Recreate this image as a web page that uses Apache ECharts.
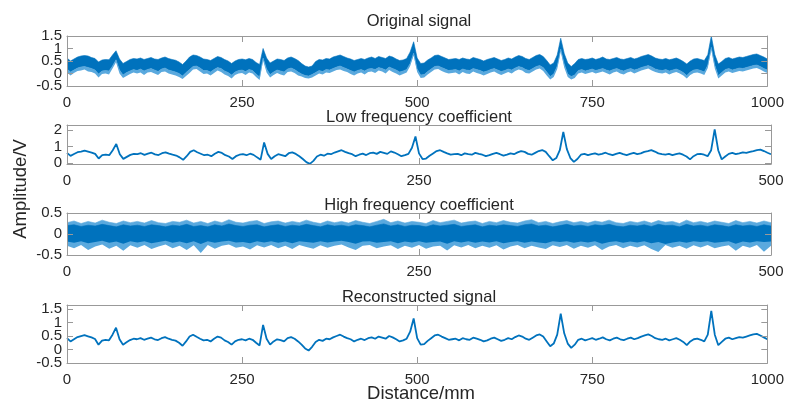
<!DOCTYPE html>
<html>
<head>
<meta charset="utf-8">
<script src="https://cdn.jsdelivr.net/npm/echarts@6/dist/echarts.min.js"></script>
<style>
    html, body { margin: 0; padding: 0; background: #fff; }
    #chart { width: 787px; height: 403px; }
</style>
</head>
<body>
<div id="chart"></div>
<script>
// sample spacing of the arrays below (mm)
const stepLong = 5
const stepShort = 2.5
const stepHigh = 5

const xTicksLong = [0, 250, 500, 750, 1000]
const xTicksShort = [0, 250, 500]
const yTicksOriginal = [-0.5, 0, 0.5, 1, 1.5]
const yTicksLow = [0, 1, 2]
const yTicksHigh = [-0.5, 0, 0.5]
const yTicksRecon = [-0.5, 0, 0.5, 1, 1.5]

const titles = ['Original signal', 'Low frequency coefficient', 'High frequency coefficient', 'Reconstructed signal']

// original signal, 0..1000 mm: upper / lower edge of the dense trace, and the faint lower fringe
const originalUpper = [
    0.62,0.50,0.58,0.66,0.70,0.72,0.70,0.64,0.60,0.46,
    0.54,0.56,0.55,0.74,0.91,0.58,0.40,0.48,0.56,0.60,
    0.58,0.62,0.56,0.60,0.64,0.58,0.56,0.62,0.66,0.60,
    0.56,0.53,0.46,0.36,0.50,0.66,0.74,0.72,0.66,0.58,
    0.56,0.52,0.60,0.68,0.64,0.56,0.50,0.40,0.50,0.56,
    0.58,0.55,0.60,0.56,0.44,0.36,1.00,0.62,0.42,0.50,
    0.58,0.56,0.52,0.62,0.66,0.60,0.52,0.40,0.30,0.26,
    0.30,0.48,0.56,0.54,0.60,0.58,0.66,0.70,0.74,0.68,
    0.62,0.58,0.52,0.56,0.60,0.56,0.62,0.66,0.60,0.68,
    0.64,0.60,0.70,0.66,0.58,0.52,0.54,0.60,0.86,1.27,
    0.62,0.40,0.42,0.54,0.62,0.72,0.74,0.68,0.62,0.56,
    0.58,0.60,0.56,0.62,0.58,0.56,0.64,0.60,0.56,0.50,
    0.56,0.60,0.64,0.58,0.52,0.56,0.62,0.58,0.66,0.72,
    0.68,0.60,0.56,0.64,0.72,0.76,0.68,0.52,0.34,0.42,
    0.74,1.41,0.80,0.42,0.28,0.40,0.56,0.60,0.56,0.58,
    0.62,0.56,0.60,0.66,0.58,0.56,0.60,0.64,0.58,0.56,
    0.60,0.64,0.58,0.62,0.68,0.72,0.76,0.70,0.62,0.58,
    0.56,0.60,0.55,0.58,0.62,0.56,0.48,0.38,0.50,0.58,
    0.60,0.56,0.52,0.75,1.50,0.76,0.38,0.48,0.60,0.64,
    0.58,0.62,0.66,0.64,0.68,0.72,0.76,0.78,0.72,0.66,
    0.58
]
const originalLower = [
    0.18,0.06,0.14,0.22,0.26,0.28,0.24,0.20,0.14,-0.02,
    0.10,0.12,0.10,0.30,0.55,0.14,-0.06,0.04,0.10,0.16,
    0.12,0.18,0.10,0.16,0.20,0.14,0.08,0.18,0.22,0.14,
    0.10,0.06,0.00,-0.10,0.04,0.16,0.28,0.30,0.22,0.12,
    0.12,0.06,0.16,0.24,0.20,0.10,0.04,-0.06,0.06,0.12,
    0.14,0.08,0.16,0.12,-0.02,-0.14,0.62,0.18,-0.04,0.06,
    0.14,0.10,0.06,0.18,0.22,0.16,0.06,-0.02,-0.08,-0.10,
    -0.04,0.04,0.12,0.08,0.16,0.14,0.20,0.26,0.30,0.24,
    0.18,0.12,0.06,0.12,0.16,0.10,0.18,0.20,0.16,0.24,
    0.20,0.14,0.26,0.20,0.14,0.06,0.10,0.16,0.40,0.82,
    0.18,-0.06,-0.04,0.08,0.18,0.28,0.30,0.24,0.18,0.12,
    0.14,0.16,0.10,0.18,0.14,0.12,0.20,0.16,0.12,0.06,
    0.10,0.16,0.20,0.14,0.08,0.12,0.18,0.14,0.22,0.28,
    0.24,0.16,0.12,0.20,0.28,0.32,0.24,0.06,-0.12,-0.02,
    0.30,0.98,0.38,-0.02,-0.12,-0.06,0.12,0.16,0.10,0.14,
    0.18,0.12,0.16,0.20,0.14,0.10,0.16,0.20,0.14,0.10,
    0.16,0.20,0.14,0.18,0.24,0.28,0.32,0.26,0.18,0.14,
    0.12,0.16,0.10,0.14,0.18,0.12,0.04,-0.08,0.06,0.14,
    0.16,0.12,0.06,0.34,1.05,0.34,-0.08,0.04,0.16,0.20,
    0.14,0.18,0.22,0.20,0.24,0.28,0.32,0.34,0.28,0.20,
    0.14
]
const originalFringe = [
    0.04,-0.08,0.02,0.10,0.12,0.16,0.08,0.06,0.00,-0.16,
    -0.02,0.00,-0.04,0.20,0.45,0.00,-0.18,-0.10,-0.02,0.04,
    0.00,0.04,-0.06,0.04,0.06,0.00,-0.06,0.06,0.08,0.00,
    -0.04,-0.08,-0.14,-0.22,-0.10,0.02,0.16,0.18,0.08,-0.02,
    0.00,-0.08,0.02,0.12,0.06,-0.04,-0.10,-0.20,-0.06,0.00,
    0.02,-0.06,0.04,0.00,-0.14,-0.26,0.52,0.04,-0.16,-0.06,
    0.02,-0.04,-0.08,0.06,0.08,0.02,-0.08,-0.12,-0.18,-0.20,
    -0.16,-0.08,0.00,-0.04,0.04,0.02,0.08,0.14,0.16,0.10,
    0.06,-0.02,-0.08,0.00,0.04,-0.04,0.06,0.08,0.02,0.12,
    0.08,0.00,0.14,0.06,0.00,-0.08,-0.02,0.04,0.30,0.72,
    0.06,-0.18,-0.16,-0.04,0.06,0.16,0.18,0.10,0.04,0.00,
    0.02,0.04,-0.04,0.06,0.00,-0.02,0.08,0.02,-0.02,-0.08,
    -0.02,0.04,0.08,0.00,-0.06,0.00,0.06,0.00,0.10,0.16,
    0.12,0.02,0.00,0.08,0.16,0.20,0.10,-0.08,-0.24,-0.14,
    0.18,0.88,0.24,-0.14,-0.24,-0.18,0.00,0.04,-0.02,0.02,
    0.06,0.00,0.04,0.08,0.02,-0.04,0.04,0.08,0.00,-0.04,
    0.04,0.08,0.00,0.06,0.12,0.16,0.20,0.12,0.06,0.02,
    0.00,0.04,-0.04,0.02,0.06,0.00,-0.08,-0.20,-0.06,0.02,
    0.04,0.00,-0.06,0.22,0.95,0.20,-0.20,-0.08,0.04,0.08,
    0.02,0.06,0.10,0.08,0.12,0.16,0.20,0.22,0.16,0.08,
    0.02
]

// low frequency coefficient, 0..500
const lowFreq = [
    0.62,0.44,0.55,0.66,0.70,0.76,0.70,0.64,0.56,0.28,
    0.48,0.52,0.48,0.78,1.16,0.54,0.26,0.38,0.50,0.56,
    0.54,0.60,0.50,0.57,0.63,0.53,0.49,0.60,0.65,0.57,
    0.51,0.46,0.35,0.20,0.42,0.68,0.78,0.66,0.57,0.48,
    0.51,0.42,0.57,0.68,0.62,0.48,0.40,0.25,0.42,0.51,
    0.54,0.48,0.57,0.50,0.35,0.21,1.25,0.56,0.25,0.42,
    0.54,0.49,0.42,0.60,0.65,0.56,0.42,0.25,0.06,-0.04,
    0.14,0.40,0.51,0.45,0.57,0.54,0.64,0.71,0.78,0.68,
    0.60,0.54,0.42,0.51,0.57,0.49,0.60,0.64,0.56,0.68,
    0.62,0.56,0.71,0.64,0.54,0.42,0.48,0.56,0.93,1.61,
    0.59,0.25,0.28,0.45,0.59,0.73,0.78,0.68,0.59,0.51,
    0.54,0.56,0.48,0.59,0.54,0.51,0.62,0.56,0.51,0.42,
    0.48,0.56,0.62,0.54,0.45,0.51,0.59,0.54,0.65,0.73,
    0.68,0.56,0.51,0.62,0.73,0.79,0.68,0.42,0.17,0.31,
    0.78,1.88,0.85,0.31,0.08,0.25,0.51,0.56,0.48,0.54,
    0.59,0.51,0.56,0.63,0.54,0.48,0.56,0.62,0.54,0.49,
    0.56,0.62,0.54,0.59,0.68,0.73,0.79,0.70,0.59,0.54,
    0.51,0.56,0.48,0.54,0.59,0.51,0.40,0.23,0.42,0.54,
    0.56,0.51,0.42,0.78,2.04,0.78,0.23,0.40,0.56,0.62,
    0.54,0.59,0.65,0.62,0.68,0.73,0.79,0.82,0.73,0.63,
    0.54
]

// high frequency coefficient, 0..500: outer (faint) and inner (dense) edges
const highOuterUpper = [
    0.27,0.31,0.25,0.30,0.26,0.33,0.28,0.25,0.31,0.27,
    0.30,0.26,0.32,0.27,0.25,0.30,0.28,0.33,0.26,0.30,
    0.25,0.31,0.27,0.34,0.28,0.26,0.30,0.32,0.25,0.29,
    0.31,0.26,0.30,0.27,0.33,0.28,0.25,0.31,0.27,0.30,
    0.26,0.32,0.28,0.25,0.30,0.35,0.27,0.31,0.26,0.30,
    0.28,0.25,0.32,0.27,0.30,0.33,0.26,0.29,0.31,0.25,
    0.30,0.27,0.32,0.28,0.26,0.31,0.34,0.27,0.30,0.25,
    0.29,0.32,0.27,0.30,0.26,0.31,0.28,0.33,0.27,0.25,
    0.30,0.27,0.31,0.26,0.32,0.28,0.30,0.25,0.33,0.27,
    0.30,0.26,0.31,0.28,0.25,0.32,0.27,0.30,0.26,0.31,
    0.27
]
const highOuterLower = [
    -0.28,-0.34,-0.26,-0.38,-0.30,-0.25,-0.35,-0.28,-0.40,-0.27,
    -0.33,-0.26,-0.36,-0.30,-0.25,-0.34,-0.28,-0.38,-0.27,-0.45,
    -0.26,-0.35,-0.28,-0.25,-0.33,-0.30,-0.37,-0.27,-0.32,-0.26,
    -0.34,-0.28,-0.36,-0.26,-0.31,-0.35,-0.27,-0.33,-0.28,-0.25,
    -0.32,-0.38,-0.28,-0.26,-0.34,-0.30,-0.27,-0.36,-0.28,-0.33,
    -0.26,-0.35,-0.30,-0.28,-0.39,-0.27,-0.32,-0.26,-0.34,-0.28,
    -0.33,-0.27,-0.37,-0.30,-0.26,-0.34,-0.28,-0.32,-0.36,-0.27,
    -0.31,-0.26,-0.35,-0.28,-0.33,-0.27,-0.38,-0.30,-0.26,-0.34,
    -0.28,-0.32,-0.27,-0.36,-0.43,-0.26,-0.33,-0.28,-0.35,-0.27,
    -0.32,-0.26,-0.34,-0.30,-0.27,-0.40,-0.28,-0.33,-0.26,-0.42,
    -0.28
]
const highInnerUpper = [
    0.20,0.22,0.18,0.21,0.19,0.23,0.20,0.17,0.22,0.19,
    0.21,0.18,0.22,0.20,0.17,0.21,0.19,0.23,0.18,0.20,
    0.17,0.22,0.19,0.24,0.20,0.18,0.21,0.22,0.17,0.20,
    0.22,0.18,0.21,0.19,0.23,0.20,0.17,0.22,0.19,0.21,
    0.18,0.22,0.20,0.17,0.21,0.24,0.19,0.22,0.18,0.21,
    0.20,0.17,0.22,0.19,0.21,0.23,0.18,0.20,0.22,0.17,
    0.21,0.19,0.22,0.20,0.18,0.22,0.24,0.19,0.21,0.17,
    0.20,0.23,0.19,0.21,0.18,0.22,0.20,0.23,0.19,0.17,
    0.21,0.19,0.22,0.18,0.23,0.20,0.21,0.17,0.23,0.19,
    0.21,0.18,0.22,0.20,0.17,0.22,0.19,0.21,0.18,0.22,
    0.19
]
const highInnerLower = [
    -0.18,-0.21,-0.17,-0.22,-0.19,-0.16,-0.21,-0.18,-0.23,-0.17,
    -0.20,-0.17,-0.22,-0.19,-0.16,-0.21,-0.18,-0.22,-0.17,-0.24,
    -0.17,-0.21,-0.18,-0.16,-0.20,-0.19,-0.22,-0.17,-0.20,-0.17,
    -0.21,-0.18,-0.22,-0.17,-0.19,-0.21,-0.17,-0.20,-0.18,-0.16,
    -0.19,-0.23,-0.18,-0.17,-0.21,-0.19,-0.17,-0.22,-0.18,-0.20,
    -0.17,-0.21,-0.19,-0.18,-0.23,-0.17,-0.20,-0.17,-0.21,-0.18,
    -0.20,-0.17,-0.22,-0.19,-0.17,-0.21,-0.18,-0.20,-0.22,-0.17,
    -0.19,-0.17,-0.21,-0.18,-0.20,-0.17,-0.23,-0.19,-0.17,-0.21,
    -0.18,-0.20,-0.17,-0.22,-0.19,-0.24,-0.20,-0.18,-0.21,-0.17,
    -0.19,-0.17,-0.21,-0.19,-0.17,-0.23,-0.18,-0.20,-0.17,-0.19,
    -0.18
]

// reconstructed signal, 0..1000
const reconstructed = [
    0.42,0.30,0.38,0.46,0.50,0.53,0.49,0.45,0.39,0.18,
    0.33,0.36,0.34,0.55,0.81,0.38,0.18,0.27,0.35,0.40,
    0.38,0.42,0.36,0.40,0.44,0.38,0.35,0.42,0.46,0.40,
    0.36,0.33,0.25,0.14,0.30,0.48,0.55,0.47,0.40,0.34,
    0.36,0.30,0.40,0.48,0.44,0.34,0.28,0.18,0.30,0.36,
    0.38,0.34,0.40,0.36,0.25,0.15,0.91,0.40,0.18,0.30,
    0.38,0.35,0.30,0.42,0.46,0.40,0.30,0.18,0.04,-0.04,
    0.10,0.28,0.36,0.32,0.40,0.38,0.45,0.50,0.55,0.48,
    0.42,0.38,0.30,0.36,0.40,0.35,0.42,0.45,0.40,0.48,
    0.44,0.40,0.50,0.45,0.38,0.30,0.34,0.40,0.66,1.15,
    0.42,0.18,0.20,0.32,0.42,0.52,0.55,0.48,0.42,0.36,
    0.38,0.40,0.34,0.42,0.38,0.36,0.44,0.40,0.36,0.30,
    0.34,0.40,0.44,0.38,0.32,0.36,0.42,0.38,0.46,0.52,
    0.48,0.40,0.36,0.44,0.52,0.56,0.48,0.30,0.12,0.22,
    0.55,1.33,0.60,0.22,0.06,0.18,0.36,0.40,0.34,0.38,
    0.42,0.36,0.40,0.45,0.38,0.34,0.40,0.44,0.38,0.35,
    0.40,0.44,0.38,0.42,0.48,0.52,0.56,0.50,0.42,0.38,
    0.36,0.40,0.34,0.38,0.42,0.36,0.28,0.16,0.30,0.38,
    0.40,0.36,0.30,0.55,1.43,0.55,0.16,0.28,0.40,0.44,
    0.38,0.42,0.46,0.44,0.48,0.52,0.56,0.58,0.52,0.45,
    0.38
]

const blue = '#0072BD'
const lightBlue = '#5aa9de'
const boxColor = '#999999'
const textColor = '#262626'
const font = "'Liberation Sans', Arial, Helvetica, sans-serif"

const positions = (values, step) => values.map((v, i) => String(i * step))
// each band is stacked on the edge below it, so it carries the height of the band
const heights = (lower, upper) => upper.map((v, i) => +(v - lower[i]).toFixed(3))
// tick labels are split over two overlaid axes, so closely spaced labels are not dropped
const every = (ticks, start) => ticks.filter((t, i) => i % 2 === start)

const panels = [
    { top: 36, height: 50, xMax: 1000, xTicks: xTicksLong, yMin: -0.5, yMax: 1.5, yTicks: yTicksOriginal, samples: positions(originalUpper, stepLong) },
    { top: 125, height: 39, xMax: 500, xTicks: xTicksShort, yMin: -0.05, yMax: 2.3, yTicks: yTicksLow, samples: positions(lowFreq, stepShort) },
    { top: 213, height: 42, xMax: 500, xTicks: xTicksShort, yMin: -0.5, yMax: 0.5, yTicks: yTicksHigh, samples: positions(highOuterUpper, stepHigh) },
    { top: 305, height: 58, xMax: 1000, xTicks: xTicksLong, yMin: -0.5, yMax: 1.65, yTicks: yTicksRecon, samples: positions(reconstructed, stepLong) }
]
const titleY = [21.5, 117, 205, 297]

const labelStyle = { color: textColor, fontSize: 15, fontFamily: font, formatter: v => String(v) }
const lineStyle = { color: boxColor, width: 1 }

const grid = []
const xAxis = []
const yAxis = []
panels.forEach((p, gi) => {
    grid.push({ left: 67, right: 16, top: p.top, height: p.height })
    ;['bottom', 'top'].forEach((pos) => {
        xAxis.push({
            type: 'value', gridIndex: gi, position: pos, min: 0, max: p.xMax,
            axisLine: { show: true, onZero: false, lineStyle: lineStyle },
            axisTick: { show: true, inside: true, length: 6, customValues: p.xTicks, lineStyle: lineStyle },
            axisLabel: Object.assign({ show: pos === 'bottom', customValues: p.xTicks, margin: 9, showMinLabel: true, showMaxLabel: true }, labelStyle),
            splitLine: { show: false }, z: 5
        })
    })
    // hidden axis the samples are placed on, spanning the same 0..xMax
    xAxis.push({
        type: 'category', gridIndex: gi, data: p.samples, boundaryGap: false, show: false
    })
    ;['left', 'right'].forEach((pos) => {
        yAxis.push({
            type: 'value', gridIndex: gi, position: pos, min: p.yMin, max: p.yMax,
            axisLine: { show: true, onZero: false, lineStyle: lineStyle },
            axisTick: { show: true, inside: true, length: 6, customValues: p.yTicks, lineStyle: lineStyle },
            axisLabel: Object.assign({ show: pos === 'left', customValues: every(p.yTicks, 0), margin: 5, showMinLabel: true, showMaxLabel: true }, labelStyle),
            splitLine: { show: false }, z: 5
        })
    })
    const rest = every(p.yTicks, 1)
    yAxis.push({
        type: 'value', gridIndex: gi, position: 'left', min: p.yMin, max: p.yMax,
        axisLine: { show: false, onZero: false }, axisTick: { show: false },
        axisLabel: Object.assign({ show: rest.length > 0, customValues: rest, margin: 5, showMinLabel: true, showMaxLabel: true }, labelStyle),
        splitLine: { show: false }, z: 5
    })
})

const edgeSeries = (gi, values, color, stack, withArea) => ({
    type: 'line', xAxisIndex: gi * 3 + 2, yAxisIndex: gi * 3,
    data: values, stack: stack, stackStrategy: 'all', symbol: 'none',
    lineStyle: { color: color, width: withArea ? 0.6 : 0 },
    areaStyle: withArea ? { color: color, opacity: 1 } : undefined
})

const series = [
    edgeSeries(0, originalFringe, lightBlue, 'orig', false),
    edgeSeries(0, heights(originalFringe, originalLower), lightBlue, 'orig', true),
    edgeSeries(0, heights(originalLower, originalUpper), blue, 'orig', true),
    {
        type: 'line', xAxisIndex: 5, yAxisIndex: 3, data: lowFreq,
        symbol: 'none', lineStyle: { color: blue, width: 1.8 }
    },
    edgeSeries(2, highOuterLower, lightBlue, 'hiOuter', false),
    edgeSeries(2, heights(highOuterLower, highOuterUpper), lightBlue, 'hiOuter', true),
    edgeSeries(2, highInnerLower, blue, 'hiInner', false),
    edgeSeries(2, heights(highInnerLower, highInnerUpper), blue, 'hiInner', true),
    {
        type: 'line', xAxisIndex: 11, yAxisIndex: 9, data: reconstructed,
        symbol: 'none', lineStyle: { color: blue, width: 1.8 }
    }
]

const textStyle = (text, size) => ({
    text: text, fontSize: size, fontFamily: font, fill: textColor,
    align: 'center', verticalAlign: 'middle', textAlign: 'center', textVerticalAlign: 'middle'
})

const graphic = titles.map((t, i) => ({
    type: 'text', x: 419, y: titleY[i], style: textStyle(t, 16.5), z: 10
}))
graphic.push({ type: 'text', x: 421, y: 393.5, style: textStyle('Distance/mm', 18.5), z: 10 })
graphic.push({ type: 'text', x: 20.5, y: 189, rotation: Math.PI / 2, style: textStyle('Amplitude/V', 18.5), z: 10 })

const myChart = echarts.init(document.getElementById('chart'), null, { renderer: 'canvas' })
myChart.setOption({
    animation: false,
    backgroundColor: '#fff',
    grid: grid,
    xAxis: xAxis,
    yAxis: yAxis,
    series: series,
    graphic: graphic
})
</script>
</body>
</html>
